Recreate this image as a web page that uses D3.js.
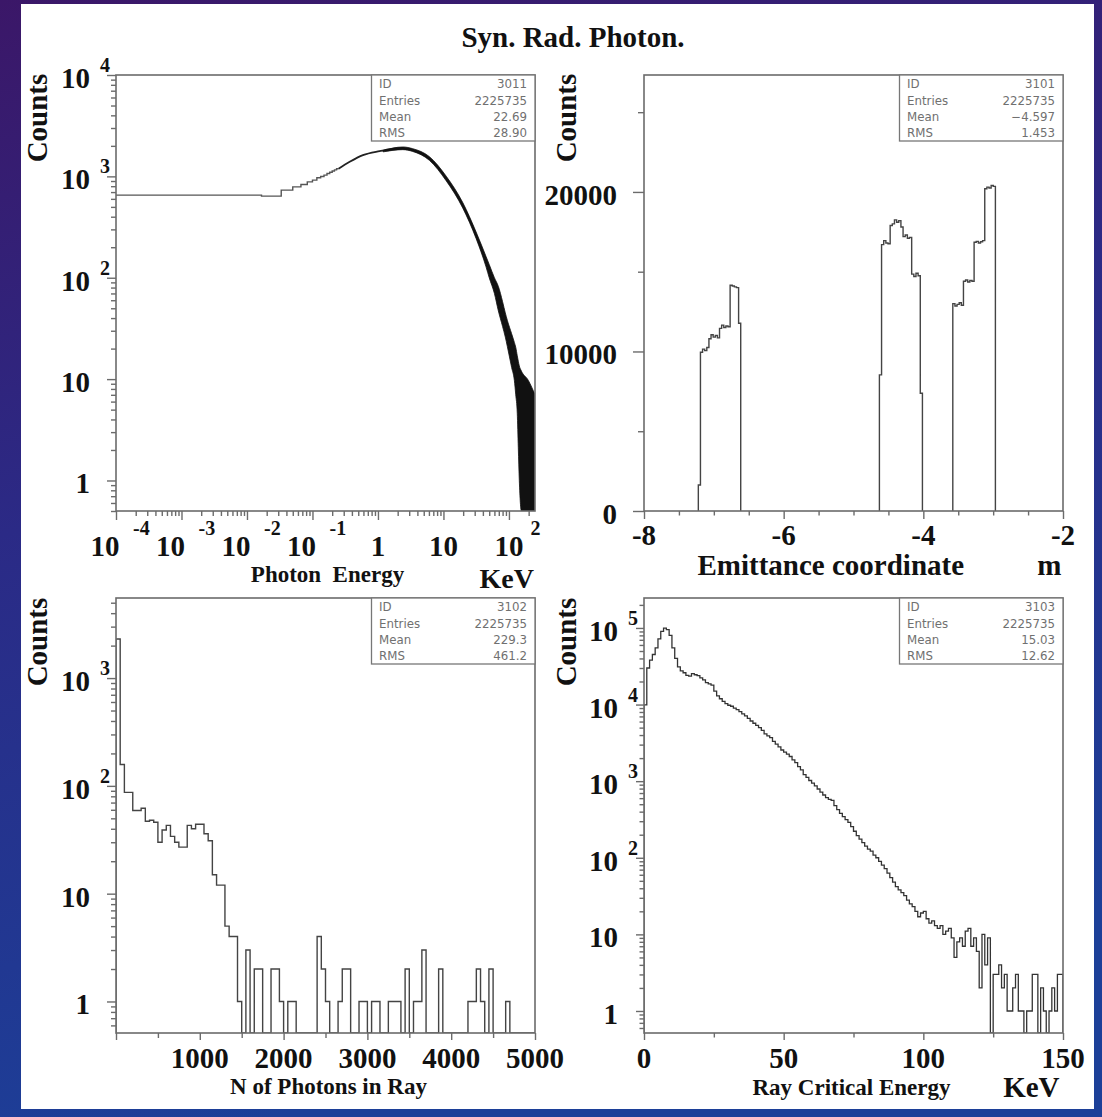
<!DOCTYPE html>
<html>
<head>
<meta charset="utf-8">
<title>Syn. Rad. Photon.</title>
<script src="https://cdn.jsdelivr.net/npm/d3@7/dist/d3.min.js"></script>
<style>
  html, body { margin: 0; padding: 0; background: #2a2575; }
  svg { display: block; }
  .serif { font-family: "Liberation Serif", "Times New Roman", Times, serif; font-weight: bold; fill: #111; }
  .stat { font-family: "DejaVu Sans", Verdana, sans-serif; font-size: 11.8px; fill: #707070; }
</style>
</head>
<body>
<svg id="chart" width="1102" height="1117" xmlns="http://www.w3.org/2000/svg"></svg>
<script>
// ---------------- data ----------------
const pageTitle = "Syn. Rad. Photon.";
const statLabels = ["ID", "Entries", "Mean", "RMS"];
const stats3011 = ["3011", "2225735", "22.69", "28.90"];
const stats3101 = ["3101", "2225735", "\u22124.597", "1.453"];
const stats3102 = ["3102", "2225735", "229.3", "461.2"];
const stats3103 = ["3103", "2225735", "15.03", "12.62"];

// Photon energy (keV), linear bins of 1/60 keV; the first bins are wide on a log axis
const photonBinWidth = 1 / 60;
const photonFirstBins = [653, 638, 731, 788, 832, 883, 918, 968, 998, 1028, 1069, 1100, 1130, 1160, 1190];
// above 0.25 keV the bins merge into a line ...
const photonLineE = [0.25, 0.37, 0.59, 1.06, 1.9, 2.4, 3.4, 6.1, 11, 19.7, 31.5, 44.7];
const photonLineC = [1190, 1393, 1622, 1775, 1888, 1895, 1817, 1503, 954, 520, 263, 143];
// ... and into a band spanned by the bin-to-bin fluctuations
const photonBandE  = [1.2, 2.4, 3.4, 6.1, 11, 19.7, 31.5, 44.7, 50, 60, 69, 80, 88, 94.5, 110, 121, 127, 134, 139, 144, 155, 198, 235, 250];
const photonBandLo = [1745, 1835, 1760, 1440, 905, 488, 244, 128, 100, 70, 47, 33, 26, 21, 13, 9.7, 7, 4.6, 2.1, 1, 0.4, 0.4, 0.4, 0.4];
const photonBandHi = [1800, 1950, 1875, 1565, 1005, 552, 283, 162, 135, 100, 82, 58, 45, 38, 28, 23, 20.6, 17, 15, 13.5, 12, 9.7, 7.7, 7];

// Emittance coordinate (m): three occupied blocks, 20 bins each
const emitBlockStart = [-7.222, -4.629, -3.578];
const emitBlockEnd   = [-6.615, -4.013, -2.968];
const emitBlock1 = [1630, 9950, 10150, 10050, 10250, 10800, 11050, 10900, 11000, 10850,
                    11450, 11650, 11500, 11600, 11550, 14150, 14100, 14050, 14000, 11770];
const emitBlock2 = [8530, 16700, 16950, 16800, 16750, 17900, 18000, 18250, 18100, 18200,
                    17800, 17200, 17300, 17100, 17150, 14850, 14700, 14900, 14750, 7380];
const emitBlock3 = [13000, 12850, 12950, 13050, 12900, 14400, 14480, 14350, 14450, 14400,
                    16850, 16900, 16800, 16880, 16950, 20200, 20300, 20250, 20400, 20350];

// N of photons in ray: 100 bins of 50
const rayBinWidth = 50;
const rayPhotonCounts = [
  2300, 158, 87, 87, 59, 59, 62, 47, 48, 46,
  30, 39, 43, 34, 30, 27, 27, 43, 40, 44,
  44, 36, 31, 15, 12, 12, 5, 4, 4, 1,
  0, 3, 0, 2, 2, 0, 0, 2, 2, 1,
  0, 1, 1, 0, 0, 0, 0, 0, 4, 2,
  1, 0, 0, 1, 2, 2, 0, 0, 1, 1,
  0, 1, 1, 0, 0, 1, 1, 1, 0, 2,
  0, 1, 1, 3, 0, 0, 0, 2, 0, 0,
  0, 0, 0, 0, 1, 1, 2, 1, 0, 2,
  0, 0, 0, 1, 0, 0, 0, 0, 0, 0];

// Ray critical energy (keV): 150 bins of 1 keV
const critBinWidth = 1;
const critEnergyCounts = [
  9900, 30000, 38000, 45000, 55000, 72000, 90000, 99500, 95000, 80000,
  55000, 40000, 31000, 27500, 26000, 24000, 23500, 25300, 24500, 23800,
  22300, 21000, 19300, 18600, 17900, 15000, 13000, 11900, 11000, 10300,
  9800, 9500, 9000, 8600, 8100, 7550, 7100, 6600, 6100, 5700,
  5350, 5000, 4600, 4150, 3900, 3700, 3300, 3050, 2800, 2550,
  2400, 2250, 2100, 1900, 1750, 1550, 1400, 1220, 1120, 1020,
  940, 870, 790, 720, 660, 610, 580, 560, 480, 425,
  380, 345, 315, 290, 255, 222, 195, 175, 158, 142,
  130, 122, 108, 100, 90, 80, 72, 63, 55, 48,
  42, 38, 35, 32, 28, 25, 23, 20, 17, 19,
  20, 16, 14, 15, 13, 12, 13, 10, 11, 12,
  9, 5, 8, 9, 7, 11, 12, 7, 9, 6,
  2, 10, 4, 9, 0, 3, 3, 4, 2, 3,
  1, 1, 2, 3, 1, 1, 0, 1, 1, 3,
  3, 0, 2, 1, 0, 1, 2, 1, 3, 3];

// ---------------- drawing ----------------
const svg = d3.select("#chart");
const W = +svg.attr("width"), H = +svg.attr("height");
const FRAME = "#6b6b6b";

const defs = svg.append("defs");
const grad = defs.append("linearGradient").attr("id", "bg")
  .attr("x1", 0).attr("y1", 0).attr("x2", 0.25).attr("y2", 1);
grad.append("stop").attr("offset", "0%").attr("stop-color", "#3b1768");
grad.append("stop").attr("offset", "45%").attr("stop-color", "#2b2a86");
grad.append("stop").attr("offset", "100%").attr("stop-color", "#1c3f98");
svg.append("rect").attr("width", W).attr("height", H).attr("fill", "url(#bg)");
svg.append("rect").attr("x", 21).attr("y", 4).attr("width", 1073).attr("height", 1105).attr("fill", "#ffffff");

function logTicks([lo, hi]) {
  const major = [], minor = [];
  for (let k = Math.floor(Math.log10(lo)); k <= Math.ceil(Math.log10(hi)); k++) {
    for (let m = 1; m <= 9; m++) {
      const v = m * Math.pow(10, k);
      if (v < lo * 0.9999 || v > hi * 1.0001) continue;
      (m === 1 ? major : minor).push(v);
    }
  }
  return { major, minor };
}

function ticks(g, axis, transform) {
  const a = g.append("g").attr("transform", transform).attr("color", FRAME).call(axis);
  a.select(".domain").remove();
  a.selectAll("line").attr("stroke-width", 1.4);
}

function panel(x, y, id) {
  const g = svg.append("g");
  const [x0, x1] = x.range(), [yb, yt] = y.range();
  defs.append("clipPath").attr("id", id).append("rect")
    .attr("x", x0).attr("y", yt).attr("width", x1 - x0).attr("height", yb - yt);
  const plot = g.append("g").attr("clip-path", `url(#${id})`);
  return { g, plot, x0, x1, yb, yt };
}

function frame(p) {
  p.g.append("rect").attr("x", p.x0).attr("y", p.yt)
    .attr("width", p.x1 - p.x0).attr("height", p.yb - p.yt)
    .attr("fill", "none").attr("stroke", FRAME).attr("stroke-width", 1.6);
}

function statBox(p, values) {
  const bx0 = p.x1 - 163.5, by0 = p.yt;
  p.g.append("rect").attr("x", bx0).attr("y", by0).attr("width", 163.5).attr("height", 66)
    .attr("fill", "#fff").attr("stroke", "#777").attr("stroke-width", 1.3);
  const rows = [13.3, 29.8, 46.3, 62.3];
  statLabels.forEach((lab, i) => {
    p.g.append("text").attr("class", "stat").attr("x", bx0 + 7.5).attr("y", by0 + rows[i]).text(lab);
    p.g.append("text").attr("class", "stat").attr("text-anchor", "end")
      .attr("x", p.x1 - 8).attr("y", by0 + rows[i]).text(values[i]);
  });
}

function txt(g, x, y, s, size, anchor) {
  return g.append("text").attr("class", "serif").attr("x", x).attr("y", y)
    .attr("font-size", size).attr("text-anchor", anchor || "start").text(s);
}

function countsLabel(p, bx, cy) {
  txt(p.g, 0, 0, "Counts", 29, "middle").attr("transform", `translate(${bx},${cy}) rotate(-90)`);
}

function yLogLabels(p, y, values) {
  values.forEach(v => {
    const k = Math.round(Math.log10(v)), ty = y(v);
    txt(p.g, p.x0 - 26, ty + 13, k === 0 ? "1" : "10", 29, "end");
    if (k >= 2) txt(p.g, p.x0 - 16, ty - 3, String(k), 20);
  });
}

// step outline of a histogram; values below the axis floor go down to it
function stepPath(edges, values, x, y, floorV) {
  const path = d3.path();
  const yy = v => y(Math.max(v, floorV));
  path.moveTo(x(edges[0]), y(floorV));
  values.forEach((v, i) => {
    path.lineTo(x(edges[i]), yy(v));
    path.lineTo(x(edges[i + 1]), yy(v));
  });
  path.lineTo(x(edges[edges.length - 1]), y(floorV));
  return path.toString();
}

// title
txt(svg, 573, 47, pageTitle, 29, "middle");

// ---- 3011: photon energy ----
{
  const x = d3.scaleLog().domain([1e-4, 250]).range([116, 535]);
  const y = d3.scaleLog().domain([0.5, 1e4]).range([511, 75]);
  const p = panel(x, y, "c3011");
  const xt = logTicks(x.domain()), yt = logTicks(y.domain());
  ticks(p.g, d3.axisLeft(y).tickValues(yt.major).tickSize(9).tickFormat(""), `translate(${p.x0},0)`);
  ticks(p.g, d3.axisLeft(y).tickValues(yt.minor).tickSize(5).tickFormat(""), `translate(${p.x0},0)`);
  ticks(p.g, d3.axisBottom(x).tickValues(xt.major).tickSize(9).tickFormat(""), `translate(0,${p.yb})`);
  ticks(p.g, d3.axisBottom(x).tickValues(xt.minor).tickSize(5).tickFormat(""), `translate(0,${p.yb})`);

  // resolved low-energy bins
  const steps = d3.path();
  photonFirstBins.forEach((c, i) => {
    const e0 = Math.max(i * photonBinWidth, x.domain()[0]), e1 = (i + 1) * photonBinWidth;
    if (i === 0) steps.moveTo(x(e0), y(c)); else steps.lineTo(x(e0), y(c));
    steps.lineTo(x(e1), y(c));
  });
  p.plot.append("path").attr("d", steps.toString()).attr("fill", "none")
    .attr("stroke", "#555").attr("stroke-width", 1.4);

  // merged fine bins
  const pts = photonLineE.map((e, i) => [x(e), y(photonLineC[i])]);
  p.plot.append("path").attr("d", d3.line().curve(d3.curveMonotoneX)(pts)).attr("fill", "none")
    .attr("stroke", "#222").attr("stroke-width", 1.8);

  const band = photonBandE.map((e, i) => ({ e, lo: photonBandLo[i], hi: photonBandHi[i] }));
  p.plot.append("path").datum(band).attr("fill", "#111").attr("stroke", "#111").attr("stroke-width", 0.8)
    .attr("d", d3.area().curve(d3.curveMonotoneX)
      .x(d => x(d.e)).y0(d => y(Math.max(d.lo, 0.5))).y1(d => y(d.hi)));

  frame(p);
  statBox(p, stats3011);
  yLogLabels(p, y, yt.major);
  xt.major.forEach(v => {
    const k = Math.round(Math.log10(v)), tx = x(v);
    if (k === 0 || k === 1) { txt(p.g, tx, 556, k === 0 ? "1" : "10", 29, "middle"); return; }
    const neg = k < 0, cx = tx + (neg ? -11 : 0);
    txt(p.g, cx, 556, "10", 29, "middle");
    txt(p.g, cx + 14.5 + (neg ? 13.5 : 7), 535, String(k), 20);
  });
  txt(p.g, 327.5, 582, "Photon\u00a0 Energy", 23, "middle");
  txt(p.g, 534, 588, "KeV", 28, "end");
  countsLabel(p, 47, 118);
}

// ---- 3101: emittance coordinate ----
{
  const x = d3.scaleLinear().domain([-8, -2]).range([644, 1063]);
  const y = d3.scaleLinear().domain([0, 27330]).range([511, 75]);
  const p = panel(x, y, "c3101");
  ticks(p.g, d3.axisLeft(y).tickValues([0, 10000, 20000]).tickSize(11).tickFormat(""), `translate(${p.x0},0)`);
  ticks(p.g, d3.axisLeft(y).tickValues([5000, 15000, 25000]).tickSize(6).tickFormat(""), `translate(${p.x0},0)`);
  ticks(p.g, d3.axisBottom(x).tickValues([-8, -6, -4, -2]).tickSize(8).tickFormat(""), `translate(0,${p.yb})`);
  ticks(p.g, d3.axisBottom(x).tickValues([-7.5, -7, -6.5, -5.5, -5, -4.5, -3.5, -3, -2.5]).tickSize(4.5).tickFormat(""), `translate(0,${p.yb})`);

  [emitBlock1, emitBlock2, emitBlock3].forEach((vals, b) => {
    const w = (emitBlockEnd[b] - emitBlockStart[b]) / vals.length;
    const edges = d3.range(vals.length + 1).map(i => emitBlockStart[b] + i * w);
    p.plot.append("path").attr("d", stepPath(edges, vals, x, y, 0))
      .attr("fill", "none").attr("stroke", "#444").attr("stroke-width", 1.4);
  });

  frame(p);
  statBox(p, stats3101);
  [0, 10000, 20000].forEach(v => txt(p.g, p.x0 - 27, y(v) + 13, String(v), 29, "end"));
  [-8, -6, -4, -2].forEach(v => txt(p.g, x(v), 545, String(v), 29, "middle"));
  txt(p.g, 697.5, 575, "Emittance coordinate", 29, "start");
  txt(p.g, 1061.5, 575, "m", 29, "end");
  countsLabel(p, 575.5, 118);
}

// ---- 3102: photons per ray ----
{
  const x = d3.scaleLinear().domain([0, 5000]).range([116, 535]);
  const y = d3.scaleLog().domain([0.51, 5530]).range([1033, 598]);
  const p = panel(x, y, "c3102");
  const yt = logTicks(y.domain());
  ticks(p.g, d3.axisLeft(y).tickValues(yt.major).tickSize(9).tickFormat(""), `translate(${p.x0},0)`);
  ticks(p.g, d3.axisLeft(y).tickValues(yt.minor).tickSize(5).tickFormat(""), `translate(${p.x0},0)`);
  ticks(p.g, d3.axisBottom(x).tickValues([0, 1000, 2000, 3000, 4000, 5000]).tickSize(7).tickFormat(""), `translate(0,${p.yb})`);
  ticks(p.g, d3.axisBottom(x).tickValues([500, 1500, 2500, 3500, 4500]).tickSize(5).tickFormat(""), `translate(0,${p.yb})`);

  const edges = d3.range(rayPhotonCounts.length + 1).map(i => i * rayBinWidth);
  p.plot.append("path").attr("d", stepPath(edges, rayPhotonCounts, x, y, y.domain()[0]))
    .attr("fill", "none").attr("stroke", "#444").attr("stroke-width", 1.4);

  frame(p);
  statBox(p, stats3102);
  yLogLabels(p, y, yt.major);
  [1000, 2000, 3000, 4000, 5000].forEach(v => txt(p.g, x(v), 1068, String(v), 29, "middle"));
  txt(p.g, 328.5, 1094, "N of Photons in Ray", 23, "middle");
  countsLabel(p, 47, 642);
}

// ---- 3103: ray critical energy ----
{
  const x = d3.scaleLinear().domain([0, 150]).range([644, 1063]);
  const y = d3.scaleLog().domain([0.516, 2.46e5]).range([1033, 598]);
  const p = panel(x, y, "c3103");
  const yt = logTicks(y.domain());
  ticks(p.g, d3.axisLeft(y).tickValues(yt.major).tickSize(8).tickFormat(""), `translate(${p.x0},0)`);
  ticks(p.g, d3.axisLeft(y).tickValues(yt.minor).tickSize(4.5).tickFormat(""), `translate(${p.x0},0)`);
  ticks(p.g, d3.axisBottom(x).tickValues([0, 50, 100, 150]).tickSize(7).tickFormat(""), `translate(0,${p.yb})`);
  ticks(p.g, d3.axisBottom(x).tickValues([25, 75, 125]).tickSize(4.5).tickFormat(""), `translate(0,${p.yb})`);

  const edges = d3.range(critEnergyCounts.length + 1).map(i => i * critBinWidth);
  p.plot.append("path").attr("d", stepPath(edges, critEnergyCounts, x, y, y.domain()[0]))
    .attr("fill", "none").attr("stroke", "#333").attr("stroke-width", 1.3);

  frame(p);
  statBox(p, stats3103);
  yLogLabels(p, y, yt.major);
  [0, 50, 100, 150].forEach(v => txt(p.g, x(v), 1068, String(v), 29, "middle"));
  txt(p.g, 851.5, 1095, "Ray Critical Energy", 23, "middle");
  txt(p.g, 1059.5, 1097, "KeV", 29, "end");
  countsLabel(p, 575.5, 642);
}
</script>
</body>
</html>
